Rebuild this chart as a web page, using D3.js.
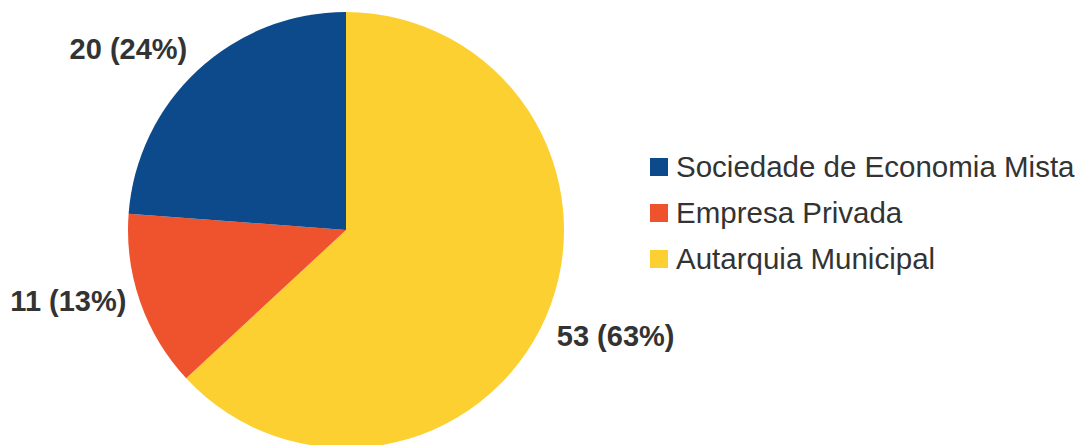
<!DOCTYPE html>
<html>
    <head>
        <script src="https://d3js.org/d3.v7.min.js"></script>
        <style>
            body { margin: 0; background: #fff; }
            text { font-family: "Liberation Sans", Arial, sans-serif; }
        </style>
    </head>
    <body>
        <svg width="1087" height="445" id="chart"></svg>
        <script>
            // data, in drawing order (clockwise from 12 o'clock)
            const categories = ["Autarquia Municipal", "Empresa Privada", "Sociedade de Economia Mista"];
            const values = [53, 11, 20];
            const percents = ["63%", "13%", "24%"];
            const colors = ["#fcd031", "#ef532d", "#0c4a8b"];
            const legendOrder = ["Sociedade de Economia Mista", "Empresa Privada", "Autarquia Municipal"];

            let svg = d3.select("#chart");
            let cx = 346, cy = 230, radius = 218;

            let pie = d3.pie().sort(null).value(d => d.value);
            let arcs = pie(categories.map((c, i) => ({name: c, value: values[i], pct: percents[i], color: colors[i]})));

            let arc = d3.arc().innerRadius(0).outerRadius(radius);
            let labelArc = d3.arc().innerRadius(292).outerRadius(292);
            // small nudges so the labels sit where the original has them
            let nudge = [[2, -11], [-2, -26], [-19, 33]];

            let g = svg.append("g").attr("transform", `translate(${cx},${cy})`);

            g.selectAll("path.slice").data(arcs)
                .join("path")
                .attr("class", "slice")
                .attr("d", arc)
                .attr("fill", d => d.data.color);

            g.selectAll("text.label").data(arcs)
                .join("text")
                .attr("class", "label")
                .attr("x", (d, i) => labelArc.centroid(d)[0] + nudge[i][0])
                .attr("y", (d, i) => labelArc.centroid(d)[1] + nudge[i][1])
                .attr("text-anchor", "middle")
                .attr("dy", "0.35em")
                .attr("font-size", 29)
                .attr("font-weight", "bold")
                .attr("fill", "#333")
                .text(d => `${d.data.value} (${d.data.pct})`);

            // legend
            let legendY = d3.scalePoint().domain(legendOrder).range([167, 259]);
            let legend = svg.append("g").attr("class", "legend");
            let items = legend.selectAll("g").data(legendOrder)
                .join("g")
                .attr("transform", d => `translate(650,${legendY(d)})`);
            items.append("rect")
                .attr("x", 0).attr("y", -9)
                .attr("width", 18).attr("height", 18)
                .attr("fill", d => colors[categories.indexOf(d)]);
            items.append("text")
                .attr("x", 26)
                .attr("y", 10)
                .attr("font-size", 29.5)
                .attr("fill", "#333")
                .text(d => d);
        </script>
    </body>
</html>
